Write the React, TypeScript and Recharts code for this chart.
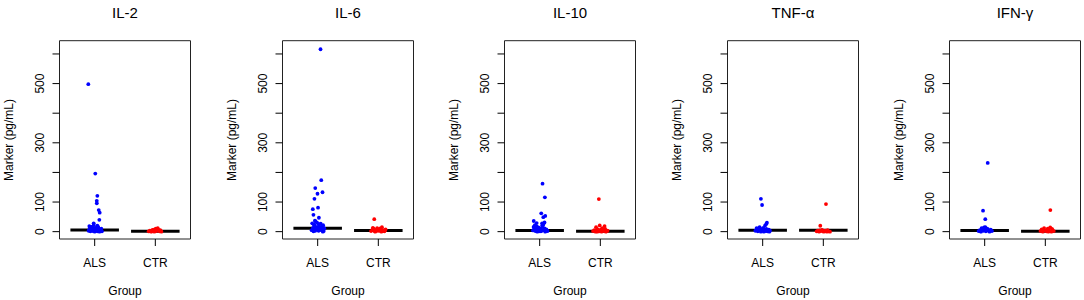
import React from "react";
import { ScatterChart, Scatter, XAxis, YAxis, ReferenceArea, ReferenceLine, Label } from "recharts";

const markers = ["IL-2", "IL-6", "IL-10", "TNF-α", "IFN-γ"];
const groupLabels = ["ALS", "CTR"];
const yTicks = [0, 100, 200, 300, 400, 500, 600];
const yTickLabels = [0, 100, 300, 500];
const yLabel = "Marker (pg/mL)";
const xLabel = "Group";

// [jittered group position, value]
const il2Als: [number, number][] = [
  [0.895, 498], [1.01, 196], [1.044, 121], [1.034, 104], [1.035, 96], [1.067, 73], [1.083, 64], [1.077, 40], [0.984, 28], [0.912, 19],
  [0.9, 3], [0.93, 1], [0.95, 6], [0.97, 2], [0.99, 9], [1.01, 4], [1.03, 12], [1.05, 1], [1.07, 7], [1.09, 3], [1.11, 10], [0.92, 14],
  [0.96, 17], [1.0, 0], [1.02, 5], [1.04, 2], [1.06, 15], [1.08, 0], [1.1, 4], [0.94, 8], [0.98, 11], [1.12, 1], [0.91, 6], [1.045, 20],
  [0.985, 22], [1.015, 13],
];
const il2Ctr: [number, number][] = [
  [1.89, 1], [1.91, 3], [1.93, 0], [1.95, 5], [1.97, 2], [1.99, 8], [2.01, 10], [2.03, 4], [2.05, 7], [2.07, 1], [2.09, 3], [2.1, 0],
  [1.92, 2], [1.96, 6], [2.0, 1], [2.04, 12], [2.08, 5], [1.98, 0], [2.02, 3], [1.94, 1],
];
const il6Als: [number, number][] = [
  [1.047, 616], [1.059, 174], [0.96, 147], [1.08, 133], [0.997, 128], [0.947, 111], [1.006, 81], [0.92, 76], [0.93, 57], [1.02, 47], [0.955, 37],
  [0.9, 5], [0.92, 12], [0.94, 20], [0.96, 3], [0.98, 8], [1.0, 15], [1.02, 25], [1.04, 6], [1.06, 10], [1.08, 18], [1.1, 2], [0.91, 28],
  [0.95, 9], [0.99, 30], [1.03, 13], [1.07, 4], [1.09, 22], [0.93, 1], [0.97, 16], [1.01, 7], [1.05, 27], [1.11, 11], [0.965, 35],
  [1.025, 19], [0.945, 24], [1.085, 0], [1.065, 14], [1.015, 3],
];
const il6Ctr: [number, number][] = [
  [1.933, 42], [1.88, 2], [1.9, 6], [1.92, 10], [1.94, 1], [1.96, 4], [1.98, 12], [2.0, 7], [2.02, 3], [2.04, 9], [2.06, 15], [2.08, 5],
  [2.1, 1], [2.12, 8], [1.91, 13], [1.95, 0], [1.99, 3], [2.03, 11], [2.07, 2], [1.97, 6], [2.11, 4], [2.05, 0], [1.93, 8],
];
const il10Als: [number, number][] = [
  [1.047, 162], [1.086, 116], [1.026, 62], [1.092, 53], [1.06, 49], [0.902, 36], [0.95, 29], [1.04, 28], [1.08, 31],
  [0.89, 4], [0.91, 12], [0.93, 2], [0.95, 18], [0.97, 7], [0.99, 1], [1.01, 10], [1.03, 3], [1.05, 15], [1.07, 5], [1.09, 0], [1.11, 8],
  [1.13, 2], [0.92, 22], [0.96, 0], [1.0, 6], [1.04, 20], [1.08, 11], [1.12, 4], [0.94, 9], [0.98, 14], [1.02, 1], [1.06, 24], [1.1, 3], [0.9, 16],
];
const il10Ctr: [number, number][] = [
  [1.976, 110], [1.99, 21], [2.07, 19], [1.93, 15], [2.03, 12],
  [1.88, 2], [1.9, 5], [1.92, 0], [1.94, 3], [1.96, 8], [1.98, 1], [2.0, 4], [2.02, 0], [2.04, 6], [2.06, 2], [2.08, 9], [2.1, 1],
  [2.12, 3], [1.95, 0], [2.01, 7], [2.09, 0],
];
const tnfAls: [number, number][] = [
  [0.971, 111], [0.99, 90], [1.07, 30], [1.06, 26], [1.04, 21], [0.9, 12],
  [0.88, 3], [0.9, 8], [0.92, 1], [0.94, 5], [0.96, 10], [0.98, 2], [1.0, 6], [1.02, 0], [1.04, 4], [1.06, 9], [1.08, 1], [1.1, 7],
  [1.12, 3], [0.93, 11], [0.97, 0], [1.01, 13], [1.05, 2], [1.09, 5], [0.91, 6], [1.03, 8], [1.11, 0], [0.95, 15],
];
const tnfCtr: [number, number][] = [
  [2.044, 93], [1.95, 20],
  [1.89, 1], [1.91, 3], [1.93, 0], [1.95, 2], [1.97, 4], [1.99, 1], [2.01, 0], [2.03, 3], [2.05, 2], [2.07, 5], [2.09, 1], [2.11, 0],
  [1.94, 4], [2.0, 2], [2.06, 0], [1.98, 6],
];
const ifnAls: [number, number][] = [
  [1.05, 232], [0.973, 71], [1.01, 42], [0.99, 14],
  [0.9, 2], [0.92, 5], [0.94, 0], [0.96, 8], [0.98, 3], [1.0, 10], [1.02, 1], [1.04, 6], [1.06, 4], [1.08, 0], [1.1, 7], [1.12, 2],
  [0.95, 12], [1.01, 15], [0.99, 5], [1.05, 9], [0.93, 1], [1.07, 3], [1.03, 11],
];
const ifnCtr: [number, number][] = [
  [2.083, 73],
  [1.92, 2], [1.94, 8], [1.96, 0], [1.98, 12], [2.0, 4], [2.02, 1], [2.04, 10], [2.06, 3], [2.08, 14], [2.1, 0], [2.12, 6], [2.14, 2],
  [1.97, 5], [2.05, 0], [2.11, 9],
];

const alsMedians = [5.7, 11.5, 3.5, 4.5, 4];
const ctrMedians = [1, 3.5, 1, 4.5, 1];

const alsSets = [il2Als, il6Als, il10Als, tnfAls, ifnAls];
const ctrSets = [il2Ctr, il6Ctr, il10Ctr, tnfCtr, ifnCtr];

const FONT = "'Liberation Sans', Arial, Helvetica, sans-serif";
const CHART_W = 193;
const CHART_H = 300;
const Y_AXIS_W = 59.5;
const BOX_CX = Y_AXIS_W + 65.5;
const X_DOMAIN: [number, number] = [0.42, 2.58];
const Y_DOMAIN: [number, number] = [-24.8, 644.8];

const BlueDot = (p: any) => <circle cx={p.cx} cy={p.cy} r={1.9} fill="#0000ff" />;
const RedDot = (p: any) => <circle cx={p.cx} cy={p.cy} r={1.9} fill="#ff0000" />;

const YTick = (p: any) => {
  const v = p.payload?.value;
  if (!yTickLabels.includes(v)) return <g />;
  return (
    <text transform={`translate(43.5,${p.y}) rotate(-90)`} textAnchor="middle" fontSize={12} fill="#000" fontFamily={FONT}>
      {String(v)}
    </text>
  );
};

const XTick = (p: any) => {
  const v = p.payload?.value;
  return (
    <text x={p.x} y={266.5} textAnchor="middle" fontSize={12} fill="#000" fontFamily={FONT}>
      {groupLabels[v - 1]}
    </text>
  );
};

function Panel({ idx }: { idx: number }) {
  const als = alsSets[idx].map(([x, y]) => ({ x, y }));
  const ctr = ctrSets[idx].map(([x, y]) => ({ x, y }));
  const left = idx * 222.5;
  return (
    <div style={{ position: "absolute", left, top: 0, width: CHART_W, height: CHART_H }}>
      <ScatterChart width={CHART_W} height={CHART_H} margin={{ top: 40.7, right: 2.5, bottom: 0, left: 0 }}>
        <XAxis
          type="number"
          dataKey="x"
          domain={X_DOMAIN}
          ticks={[1, 2]}
          allowDataOverflow
          height={61}
          tickSize={7}
          axisLine={false}
          tickLine={{ stroke: "#000" }}
          tick={XTick}
          interval={0}
        >
          <Label
            content={() => (
              <text x={BOX_CX} y={294.5} textAnchor="middle" fontSize={12} fill="#000" fontFamily={FONT}>
                {xLabel}
              </text>
            )}
          />
        </XAxis>
        <YAxis
          type="number"
          dataKey="y"
          domain={Y_DOMAIN}
          ticks={yTicks}
          allowDataOverflow
          width={Y_AXIS_W}
          tickSize={7}
          axisLine={false}
          tickLine={{ stroke: "#000" }}
          tick={YTick}
          interval={0}
        >
          <Label
            content={() => (
              <text transform={`translate(13,140) rotate(-90)`} textAnchor="middle" fontSize={12} fill="#000" fontFamily={FONT}>
                {yLabel}
              </text>
            )}
          />
        </YAxis>
        <ReferenceArea
          x1={X_DOMAIN[0]}
          x2={X_DOMAIN[1]}
          y1={Y_DOMAIN[0]}
          y2={Y_DOMAIN[1]}
          fill="none"
          fillOpacity={0}
          stroke="#222"
          strokeWidth={1}
          ifOverflow="visible"
        />
        <Scatter data={als} fill="#0000ff" shape={BlueDot} isAnimationActive={false} />
        <Scatter data={ctr} fill="#ff0000" shape={RedDot} isAnimationActive={false} />
        <ReferenceLine
          segment={[{ x: 0.6, y: alsMedians[idx] }, { x: 1.4, y: alsMedians[idx] }]}
          stroke="#000"
          strokeWidth={3}
          ifOverflow="visible"
        />
        <ReferenceLine
          segment={[{ x: 1.6, y: ctrMedians[idx] }, { x: 2.4, y: ctrMedians[idx] }]}
          stroke="#000"
          strokeWidth={3}
          ifOverflow="visible"
        />
      </ScatterChart>
      <svg style={{ position: "absolute", left: 0, top: 0, pointerEvents: "none" }} width={CHART_W} height={30}>
        <text x={BOX_CX} y={18.3} textAnchor="middle" fontSize={15} fill="#000" fontFamily={FONT}>
          {markers[idx]}
        </text>
      </svg>
    </div>
  );
}

export default function App() {
  return (
    <div
      style={{
        position: "absolute",
        left: 0,
        top: 0,
        width: 1084,
        height: 300,
        background: "#fff",
        fontFamily: FONT,
        overflow: "hidden",
      }}
    >
      {markers.map((_, i) => (
        <Panel key={i} idx={i} />
      ))}
    </div>
  );
}
